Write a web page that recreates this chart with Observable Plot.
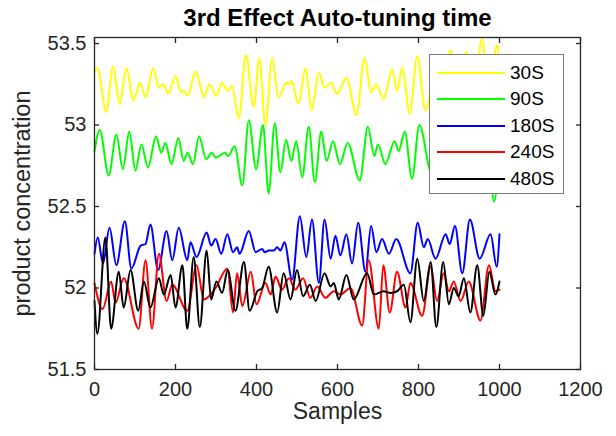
<!DOCTYPE html>
<html><head><meta charset="utf-8">
<script src="https://cdn.jsdelivr.net/npm/d3@7"></script>
<script src="https://cdn.jsdelivr.net/npm/@observablehq/plot@0.6"></script>
<style>
body{margin:0;background:#fff;font-family:"Liberation Sans",Arial,sans-serif;}
#wrap{position:relative;width:616px;height:436px;overflow:hidden;}
#legend{position:absolute;left:429px;top:54px;width:135px;height:140px;border:1px solid #7a7a7a;background:#fff;box-sizing:border-box;}
.row{position:absolute;left:0;height:26px;width:130px;}
.sw{position:absolute;left:7px;width:68px;height:2px;top:12px;}
.lb{position:absolute;left:80px;top:0;font-size:19px;line-height:26px;color:#000;}
</style></head><body><div id="wrap"></div>
<script>
const titleText = "3rd Effect Auto-tuning time";
const xLabel = "Samples";
const yLabel = "product concentration";
const xTicks = [0, 200, 400, 600, 800, 1000, 1200];
const yTicks = [51.5, 52, 52.5, 53, 53.5];
const seriesNames = ["30S", "90S", "180S", "240S", "480S"];
const seriesColors = ["#ffff00", "#00ff00", "#0000ff", "#ff0000", "#000000"];

const x30 = [0,7,29,46,62,79,96,112,126,145,159,170,182,200,214,222,230,250,270,284,301,315,328,340,356,374,393,407,422,439,454,474,480,486,504,521,536,554,568,584,599,622,647,667,683,696,714,735,747,760,778,797,817,844,862,879,899,918,936,957,973,994,1000];
const y30 = [53.33,53.35,53.08,53.36,53.13,53.35,53.15,53.26,53.17,53.35,53.23,53.25,53.19,53.30,53.20,53.21,53.18,53.33,53.17,53.25,53.18,53.26,53.21,53.24,53.04,53.43,53.11,53.41,53.00,53.41,53.17,53.26,53.25,53.27,53.13,53.35,53.09,53.32,53.23,53.26,53.19,53.29,53.06,53.41,53.20,53.25,53.16,53.34,53.21,53.35,53.07,53.42,53.09,53.36,53.15,53.46,53.18,53.45,53.15,53.53,53.15,53.49,53.40];

const x90 = [0,13,35,54,70,86,101,116,132,152,165,175,190,207,220,230,243,258,276,289,300,322,330,346,365,381,399,416,430,445,459,473,486,498,513,529,544,560,573,589,606,625,655,675,691,700,718,741,751,766,784,802,833,852,872,892,912,932,952,972,986,1000];
const y90 = [52.84,52.97,52.69,52.94,52.73,52.96,52.72,52.88,52.74,52.93,52.83,52.89,52.76,52.92,52.78,52.83,52.76,52.93,52.79,52.83,52.80,52.83,52.81,52.87,52.63,53.03,52.73,53.00,52.58,53.01,52.71,52.91,52.78,52.90,52.68,52.99,52.65,52.96,52.78,52.90,52.76,52.89,52.66,52.99,52.81,52.88,52.76,52.90,52.84,52.96,52.67,53.00,52.70,52.95,52.72,52.96,52.70,52.95,52.73,52.93,52.53,52.80];

const x180 = [0,8,21,37,54,75,91,114,126,138,157,178,192,208,229,237,252,277,288,299,313,328,342,352,358,381,398,414,420,430,443,451,459,469,488,507,523,537,554,568,583,595,607,622,636,651,669,683,696,710,727,745,780,798,813,823,842,867,877,890,908,927,951,978,993,1000];
const y180 = [52.21,52.31,52.15,52.37,52.14,52.41,52.12,52.26,52.27,52.39,52.11,52.35,52.17,52.37,52.17,52.28,52.19,52.34,52.26,52.30,52.21,52.33,52.22,52.25,52.21,52.35,52.22,52.24,52.22,52.23,52.23,52.25,52.23,52.28,52.05,52.44,52.19,52.42,52.03,52.42,52.18,52.32,52.20,52.33,52.15,52.40,52.10,52.38,52.22,52.30,52.21,52.30,52.09,52.40,52.25,52.30,52.18,52.33,52.27,52.38,52.09,52.42,52.18,52.33,52.13,52.33];

const x240 = [0,20,41,52,72,109,126,142,159,178,192,229,252,270,299,328,342,352,365,386,400,422,435,447,463,480,496,515,533,550,570,591,607,632,661,677,702,713,729,747,768,780,809,830,846,862,875,887,904,924,953,974,990,1000];
const y240 = [52.03,51.87,52.04,51.91,52.06,51.75,52.17,51.75,52.21,51.92,52.02,51.86,52.14,51.93,52.00,52.12,51.85,52.09,51.89,52.10,51.90,52.03,51.96,52.07,51.99,52.06,51.99,52.06,51.94,52.01,51.94,51.98,51.96,52.00,51.77,52.17,51.75,52.14,51.85,52.10,51.88,52.03,51.83,52.13,51.92,52.09,51.98,52.04,51.92,52.04,51.80,52.14,51.98,51.99];

const x480 = [0,7,27,41,60,72,89,108,122,138,159,171,188,200,217,229,245,260,277,288,301,315,329,348,369,383,402,414,430,451,467,484,500,515,532,546,568,583,591,603,622,640,673,690,714,731,747,764,780,797,813,830,844,861,875,887,899,912,928,945,960,975,990,1000];
const y480 = [51.92,51.72,52.31,51.75,52.10,51.88,52.11,51.86,52.04,51.88,52.06,51.96,52.08,51.88,52.14,51.75,52.19,51.76,52.23,51.93,52.04,51.97,52.11,51.86,52.16,51.86,51.98,52.00,52.13,51.85,52.09,51.93,52.11,51.95,52.02,51.92,52.09,52.01,52.03,51.93,52.08,51.93,52.09,51.96,51.98,51.97,51.98,52.02,51.79,52.18,51.92,52.16,51.76,52.16,51.90,52.00,51.95,52.06,51.85,52.14,51.83,52.10,51.96,52.04];

const seriesX = [x30, x90, x180, x240, x480];
const seriesY = [y30, y90, y180, y240, y480];

const axisColor = "#262626";
const lineMarks = seriesX.map((xs, i) =>
  Plot.line(xs.map((s, j) => ({sample: s, value: seriesY[i][j]})), {
    x: "sample", y: "value", stroke: seriesColors[i], strokeWidth: 2, curve: "monotone-x"
  })
);

const fmt = d => String(d);

const chart = Plot.plot({
  width: 616,
  height: 436,
  marginLeft: 94,
  marginRight: 36,
  marginTop: 37,
  marginBottom: 67,
  style: {fontFamily: "'Liberation Sans', Arial, sans-serif", fontSize: "20px", color: axisColor, background: "white", overflow: "visible"},
  x: {domain: [0, 1200]},
  y: {domain: [51.5, 53.537]},
  marks: [
    ...lineMarks,
    Plot.frame({stroke: axisColor, strokeWidth: 1.3}),
    Plot.axisX({ticks: xTicks, anchor: "bottom", tickSize: -5, tickPadding: 17, tickFormat: fmt, label: null, fontSize: 20, stroke: axisColor, strokeWidth: 1.3}),
    Plot.axisX({ticks: xTicks, anchor: "top", tickSize: -5, tickFormat: () => "", label: null, stroke: axisColor, strokeWidth: 1.3}),
    Plot.axisY({ticks: yTicks, anchor: "left", tickSize: -5, tickPadding: 13, tickFormat: fmt, label: null, fontSize: 20, stroke: axisColor, strokeWidth: 1.3}),
    Plot.axisY({ticks: yTicks, anchor: "right", tickSize: -5, tickFormat: () => "", label: null, stroke: axisColor, strokeWidth: 1.3}),
    Plot.text([titleText], {frameAnchor: "top", lineAnchor: "middle", textAnchor: "middle", dy: -19, fontWeight: "bold", fontSize: 24, fill: "#000"}),
    Plot.text([xLabel], {frameAnchor: "bottom", lineAnchor: "middle", textAnchor: "middle", dy: 42, fontSize: 23, fill: axisColor}),
    Plot.text([yLabel], {frameAnchor: "left", lineAnchor: "middle", textAnchor: "middle", dx: -72, rotate: -90, fontSize: 23.5, fill: axisColor})
  ]
});

const wrap = document.getElementById("wrap");
wrap.appendChild(chart);

const legend = document.createElement("div");
legend.id = "legend";
seriesNames.forEach((name, i) => {
  const row = document.createElement("div");
  row.className = "row";
  row.style.top = (5 + i * 26.4) + "px";
  const sw = document.createElement("div");
  sw.className = "sw";
  sw.style.background = seriesColors[i];
  const lb = document.createElement("div");
  lb.className = "lb";
  lb.textContent = name;
  row.appendChild(sw);
  row.appendChild(lb);
  legend.appendChild(row);
});
wrap.appendChild(legend);
</script></body></html>
